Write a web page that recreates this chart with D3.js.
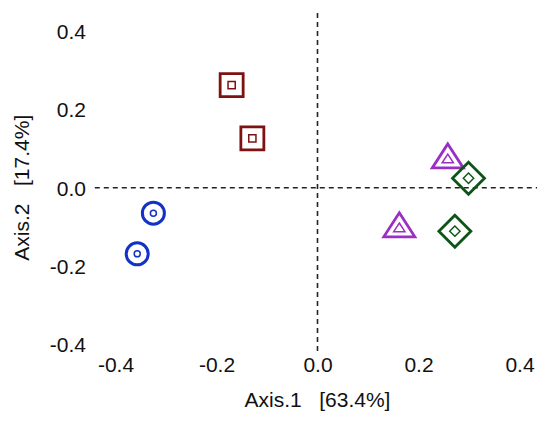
<!DOCTYPE html>
<html>
<head>
<meta charset="utf-8">
<script src="https://cdn.jsdelivr.net/npm/d3@7"></script>
<style>
  html, body { margin: 0; padding: 0; background: #fff; }
  svg { display: block; }
  text { font-family: "Liberation Sans", Arial, sans-serif; fill: #111; }
</style>
</head>
<body>
<svg id="chart" width="537" height="433"></svg>
<script>
// Ordination scores (PCoA), two samples per group
const groups = ["A", "B", "C", "D"];
const axis1 = [-0.325, -0.357, -0.170, -0.129, 0.258, 0.162, 0.299, 0.272];
const axis2 = [-0.065, -0.169, 0.262, 0.126, 0.071, -0.105, 0.024, -0.111];
const sampleGroup = ["A", "A", "B", "B", "C", "C", "D", "D"];
const groupShape = ["circle", "square", "triangle", "diamond"];
const groupColor = ["#1232c6", "#7d1212", "#9a2fc4", "#0d5517"];
const xTicks = [-0.4, -0.2, 0.0, 0.2, 0.4];
const yTicks = [-0.4, -0.2, 0.0, 0.2, 0.4];
const xLabel = "Axis.1   [63.4%]";
const yLabel = "Axis.2   [17.4%]";
const xLimits = [-0.441, 0.44];
const yLimits = [-0.427, 0.446];

const svg = d3.select("#chart");

const x = d3.scaleLinear().domain([-0.4, 0.4]).range([115.5, 519.5]);
const y = d3.scaleLinear().domain([-0.4, 0.4]).range([344.3, 31.1]);

// plain hyphen for negative tick values
const fmt = v => d3.format(".1f")(v).replace("\u2212", "-");
const FONT = "21px";

// tick labels (axis lines and tick marks are hidden)
const xAxis = d3.axisBottom(x).tickValues(xTicks).tickFormat(fmt).tickSize(0).tickPadding(0);
const gx = svg.append("g").attr("transform", "translate(0,357)").call(xAxis);
gx.select(".domain").remove();
gx.selectAll("text").attr("dy", "0.71em").style("font-size", FONT)
  .style("font-family", "'Liberation Sans', Arial, sans-serif").attr("fill", "#111");

const yAxis = d3.axisLeft(y).tickValues(yTicks).tickFormat(fmt).tickSize(0).tickPadding(0);
const gy = svg.append("g").attr("transform", "translate(86,0)").call(yAxis);
gy.select(".domain").remove();
gy.selectAll("text").attr("dy", "0.36em").style("font-size", FONT)
  .style("font-family", "'Liberation Sans', Arial, sans-serif").attr("fill", "#111");

// axis titles
svg.append("text")
  .attr("x", x(0)).attr("y", 407)
  .attr("text-anchor", "middle")
  .style("font-size", FONT)
  .style("white-space", "pre")
  .text(xLabel);

svg.append("text")
  .attr("transform", `translate(29,${y(0)}) rotate(-90)`)
  .attr("text-anchor", "middle")
  .style("font-size", FONT)
  .style("white-space", "pre")
  .text(yLabel);

// dashed reference lines through the origin
svg.append("line")
  .attr("x1", x(xLimits[0])).attr("x2", x(xLimits[1]))
  .attr("y1", y(0)).attr("y2", y(0))
  .attr("stroke", "#222").attr("stroke-width", 1.6).attr("stroke-dasharray", "5,4");
svg.append("line")
  .attr("x1", x(0)).attr("x2", x(0))
  .attr("y1", y(yLimits[1])).attr("y2", y(yLimits[0]))
  .attr("stroke", "#222").attr("stroke-width", 1.6).attr("stroke-dasharray", "5,4");

// marker outlines: outer symbol plus small inner copy
function shapePath(shape, s) {
  if (shape === "circle") {
    return `M${s},0A${s},${s},0,1,1,${-s},0A${s},${s},0,1,1,${s},0Z`;
  }
  if (shape === "square") {
    return `M${-s},${-s}H${s}V${s}H${-s}Z`;
  }
  if (shape === "triangle") {
    const h = s * 0.97;
    return `M0,${-s}L${h},${s / 2}L${-h},${s / 2}Z`;
  }
  // diamond
  return `M0,${-s}L${s},0L0,${s}L${-s},0Z`;
}

const outerSize = { circle: 11, square: 11.5, triangle: 16, diamond: 16 };
const innerSize = { circle: 3, square: 3.6, triangle: 5.8, diamond: 5.2 };
const outerWidth = { circle: 3, square: 2.8, triangle: 2.8, diamond: 2.8 };
const innerWidth = { circle: 1.5, square: 1.5, triangle: 1.5, diamond: 1.4 };

const pts = axis1.map((v, i) => ({ x: v, y: axis2[i], g: groups.indexOf(sampleGroup[i]) }));

const marks = svg.append("g").selectAll("g")
  .data(pts).join("g")
  .attr("transform", d => `translate(${x(d.x)},${y(d.y)})`);

marks.each(function(d) {
  const g = d3.select(this);
  const shape = groupShape[d.g];
  const col = groupColor[d.g];
  g.append("path").attr("d", shapePath(shape, outerSize[shape])).attr("fill", "none")
    .attr("stroke", col).attr("stroke-width", outerWidth[shape]).attr("stroke-linejoin", "miter");
  g.append("path").attr("d", shapePath(shape, innerSize[shape])).attr("fill", "none")
    .attr("stroke", col).attr("stroke-width", innerWidth[shape]);
});
</script>
</body>
</html>
